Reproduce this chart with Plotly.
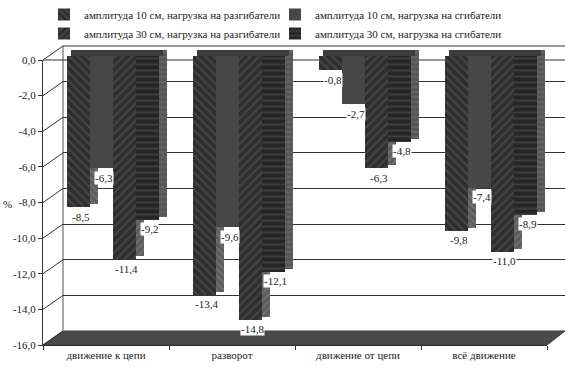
import plotly.graph_objects as go

# ---------------- data ----------------
CATEGORIES = ["движение к цепи", "разворот", "движение от цепи", "всё движение"]
NAMES = [
    "амплитуда 10 см, нагрузка на разгибатели",
    "амплитуда 10 см, нагрузка на сгибатели",
    "амплитуда 30 см, нагрузка на разгибатели",
    "амплитуда 30 см, нагрузка на сгибатели",
]
AMP10_EXT = [-8.5, -13.4, -0.8, -9.8]
AMP10_FLX = [-6.3, -9.6, -2.7, -7.4]
AMP30_EXT = [-11.4, -14.8, -6.3, -11.0]
AMP30_FLX = [-9.2, -12.1, -4.8, -8.9]
Y_TICKS = [0, -2, -4, -6, -8, -10, -12, -14, -16]
Y_MIN, Y_MAX = -16, 0

SERIES = [AMP10_EXT, AMP10_FLX, AMP30_EXT, AMP30_FLX]

# ---------------- styles ----------------
FRONT = [
    dict(bg="#2e2e2e", fg="#5e5e5e", shape="\\"),
    dict(bg="#474747", fg="#474747", shape=""),
    dict(bg="#2e2e2e", fg="#5e5e5e", shape="/"),
    dict(bg="#252525", fg="#555555", shape="-"),
]
SIDE = [
    dict(bg="#5c5c5c", fg="#858585", shape="\\"),
    dict(bg="#5a5a5a", fg="#5a5a5a", shape=""),
    dict(bg="#5c5c5c", fg="#858585", shape="/"),
    dict(bg="#555555", fg="#7a7a7a", shape="-"),
]
TOP_COLOR = "#3c3c3c"
FONT = "Times New Roman, Liberation Serif, serif"
TXT = "#222222"

W, H = 570, 380
def px(x): return x / W
def py(y): return 1 - y / H

# geometry (pixels)
BACK_X0, BACK_X1, BACK_Y0, BACK_Y1 = 63, 565, 46, 331      # back wall (0 .. -16)
FRONT_X0, FRONT_X1, FRONT_Y0, FRONT_Y1 = 43, 547, 60, 345  # front axis
UNIT = (BACK_Y1 - BACK_Y0) / (Y_MAX - Y_MIN)
BAR_Y0 = 55.5                  # pixel of value 0 for bars
BAR_X0, BAR_X1 = 54, 558        # category band for bars
CAT_PX = (BAR_X1 - BAR_X0) / len(CATEGORIES)
BAR_W, DEPTH_X, DEPTH_Y = 23, 8, 6
TOP_U = DEPTH_Y / UNIT
GROUP_L = -50

fig = go.Figure()

# helper trace carrying the back-wall axes
fig.add_trace(go.Scatter(x=CATEGORIES, y=AMP10_EXT, mode="markers",
                         marker=dict(opacity=0), xaxis="x", yaxis="y",
                         showlegend=False, hoverinfo="skip"))

for i, (name, vals) in enumerate(zip(NAMES, SERIES)):
    L = GROUP_L + BAR_W * i
    fs, ss = FRONT[i], SIDE[i]
    # side face
    fig.add_trace(go.Bar(
        x=CATEGORIES, y=[v + TOP_U / 2 - TOP_U for v in vals], base=TOP_U,
        offset=(L + BAR_W) / CAT_PX, width=DEPTH_X / CAT_PX,
        marker=dict(color=ss["bg"], line=dict(width=0),
                    pattern=dict(shape=ss["shape"], fgcolor=ss["fg"], bgcolor=ss["bg"],
                                 size=5, solidity=0.35)),
        xaxis="x2", yaxis="y2", showlegend=False, hoverinfo="skip"))
    # top face
    fig.add_trace(go.Bar(
        x=CATEGORIES, y=[TOP_U for _ in vals], base=0,
        offset=(L + DEPTH_X / 2) / CAT_PX, width=BAR_W / CAT_PX,
        marker=dict(color=TOP_COLOR, line=dict(width=0)),
        xaxis="x2", yaxis="y2", showlegend=False, hoverinfo="skip"))
    # front face
    fig.add_trace(go.Bar(
        x=CATEGORIES, y=vals, base=0, name=name,
        offset=L / CAT_PX, width=BAR_W / CAT_PX,
        marker=dict(color=fs["bg"], line=dict(width=0),
                    pattern=dict(shape=fs["shape"], fgcolor=fs["fg"], bgcolor=fs["bg"],
                                 size=6, solidity=0.35)),
        xaxis="x2", yaxis="y2"))
    # value labels
    for c, v in zip(CATEGORIES, vals):
        fig.add_annotation(
            x=c, y=v, xref="x2", yref="y2", text=f"{v:.1f}".replace(".", ","),
            showarrow=False, xanchor="center", yanchor="top",
            xshift=L + BAR_W / 2 + 2, yshift=-3, bgcolor="white", borderpad=0,
            font=dict(family=FONT, size=11, color=TXT))

# helper trace that carries the front axes
fig.add_trace(go.Scatter(x=CATEGORIES, y=AMP10_EXT, mode="markers",
                         marker=dict(opacity=0), xaxis="x3", yaxis="y3",
                         showlegend=False, hoverinfo="skip"))

# decorations: floor, wall edges, diagonals
fig.add_shape(type="path", xref="paper", yref="paper", layer="below",
              path=(f"M {px(FRONT_X0)},{py(FRONT_Y1)} L {px(FRONT_X1)},{py(FRONT_Y1)} "
                    f"L {px(BACK_X1)},{py(BACK_Y1)} L {px(BACK_X0)},{py(BACK_Y1)} Z"),
              fillcolor="#4a4a4a", line=dict(color="#3a3a3a", width=1))
fig.add_shape(type="line", xref="paper", yref="paper", layer="below",
              x0=px(BACK_X0), x1=px(BACK_X0), y0=py(BACK_Y0), y1=py(BACK_Y1),
              line=dict(color="#a8a8a8", width=2))
fig.add_shape(type="line", xref="paper", yref="paper", layer="below",
              x0=px(BACK_X0), x1=px(BACK_X1), y0=py(BACK_Y0), y1=py(BACK_Y0),
              line=dict(color="#333333", width=1))
fig.add_shape(type="line", xref="paper", yref="paper", layer="below",
              x0=px(FRONT_X0), x1=px(BACK_X1), y0=py(FRONT_Y0), y1=py(FRONT_Y0),
              line=dict(color="#333333", width=1))
for t in Y_TICKS:
    fy = FRONT_Y0 + (Y_MAX - t) * UNIT
    by = BACK_Y0 + (Y_MAX - t) * UNIT
    fig.add_shape(type="line", xref="paper", yref="paper", layer="below",
                  x0=px(FRONT_X0), x1=px(BACK_X0), y0=py(fy), y1=py(by),
                  line=dict(color="#333333", width=1))

fig.add_annotation(x=px(7), y=py(204), xref="paper", yref="paper", text="%",
                   showarrow=False, xanchor="center",
                   font=dict(family=FONT, size=11, color=TXT))

tick_text = [f"{t:.1f}".replace(".", ",") for t in Y_TICKS]

fig.update_layout(
    width=W, height=H, margin=dict(l=0, r=0, t=0, b=0, pad=0, autoexpand=False),
    paper_bgcolor="white", plot_bgcolor="rgba(0,0,0,0)",
    barmode="overlay", bargap=0,
    font=dict(family=FONT, size=11, color=TXT),
    # back wall
    xaxis=dict(domain=[px(BACK_X0), px(BACK_X1)], type="category",
               categoryarray=CATEGORIES, range=[-0.5, len(CATEGORIES) - 0.5],
               showticklabels=False, ticks="", automargin=False,
               showgrid=False, showline=False, zeroline=False, anchor="y"),
    yaxis=dict(domain=[py(BACK_Y1), py(BACK_Y0)], range=[Y_MIN, Y_MAX],
               tickvals=Y_TICKS, showticklabels=False, ticks="", automargin=False,
               showgrid=True, gridcolor="#333333", gridwidth=1,
               zeroline=False, showline=False, anchor="x"),
    # bars
    xaxis2=dict(domain=[px(BAR_X0), px(BAR_X1)], type="category",
                categoryarray=CATEGORIES, range=[-0.5, len(CATEGORIES) - 0.5],
                visible=False, anchor="y2", automargin=False),
    yaxis2=dict(domain=[py(BAR_Y0 + (Y_MAX - Y_MIN) * UNIT), py(BAR_Y0 - DEPTH_Y)],
                range=[Y_MIN, Y_MAX + TOP_U], visible=False, anchor="x2",
                automargin=False),
    # front axes
    xaxis3=dict(domain=[px(FRONT_X0), px(FRONT_X1)], type="category",
                categoryarray=CATEGORIES, range=[-0.5, len(CATEGORIES) - 0.5],
                showline=True, linecolor="#333333", linewidth=1, automargin=False,
                ticks="outside", tickson="boundaries", ticklen=4, tickcolor="#333333",
                showgrid=False, zeroline=False, anchor="y3",
                tickfont=dict(family=FONT, size=11, color=TXT)),
    yaxis3=dict(domain=[py(FRONT_Y1), py(FRONT_Y0)], range=[Y_MIN, Y_MAX],
                tickvals=Y_TICKS, ticktext=tick_text, automargin=False,
                showline=True, linecolor="#333333", linewidth=1,
                ticks="outside", ticklen=4, tickcolor="#333333",
                showgrid=False, zeroline=False, anchor="x3",
                tickfont=dict(family=FONT, size=11, color=TXT)),
    legend=dict(orientation="h", x=px(44), y=py(0), xanchor="left", yanchor="top",
                entrywidth=186, entrywidthmode="pixels", bgcolor="rgba(0,0,0,0)",
                font=dict(family=FONT, size=11, color=TXT), tracegroupgap=0,
                itemclick=False),
)

fig.write_html("out.html", config={"displayModeBar": False},
               post_script="document.body.style.margin='0px';")
